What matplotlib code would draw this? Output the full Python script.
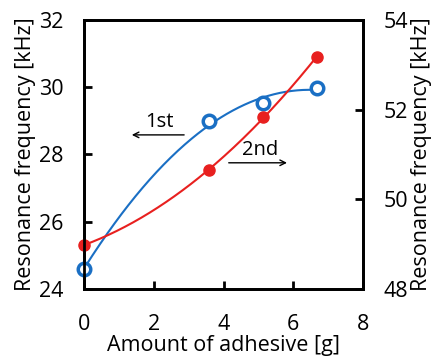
import matplotlib
matplotlib.use('Agg')
import matplotlib.pyplot as plt
import numpy as np

plt.rcParams['font.family'] = ['Open Sans', 'DejaVu Sans']

# data
adhesive = [0.0, 3.58, 5.14, 6.68]
freq_1st = [24.59, 28.98, 29.53, 29.98]     # left axis
adhesive_2 = [0.0, 3.58, 5.14, 6.68]
freq_2nd = [48.98, 50.65, 51.83, 53.18]     # right axis

blue = '#1a6fc4'
red = '#e8201f'

fig = plt.figure(figsize=(4.4, 3.62), dpi=100)
ax = fig.add_axes([0.191, 0.202, 0.634, 0.743])
ax2 = ax.twinx()

# quadratic trend lines like the original
xs = np.linspace(adhesive[0], adhesive[-1], 200)
ax.plot(xs, np.poly1d(np.polyfit(adhesive, freq_1st, 2))(xs), color=blue, lw=1.5, zorder=2)
ax.plot(adhesive, freq_1st, 'o', ms=9, mfc='white', mec=blue, mew=2.5, zorder=3, clip_on=False)

xs2 = np.linspace(adhesive_2[0], adhesive_2[-1], 200)
ax2.plot(xs2, np.poly1d(np.polyfit(adhesive_2, freq_2nd, 2))(xs2), color=red, lw=1.5)
ax2.plot(adhesive_2, freq_2nd, 'o', ms=8, color=red, clip_on=False)

ax.set_xlim(0, 8)
ax.set_ylim(24, 32)
ax2.set_ylim(48, 54)
ax.set_xticks([0, 2, 4, 6, 8])
ax.set_yticks([24, 26, 28, 30, 32])
ax2.set_yticks([48, 50, 52, 54])

for a in (ax, ax2):
    a.tick_params(direction='in', length=6, width=2, labelsize=15.5, pad=15)
    for s in a.spines.values():
        s.set_linewidth(2)
ax.tick_params(axis='x', pad=18)

ax.set_xlabel('Amount of adhesive [g]', fontsize=15.5, labelpad=0)
ax.set_ylabel('Resonance frequency [kHz]', fontsize=15.5, labelpad=2)
ax2.set_ylabel('Resonance frequency [kHz]', fontsize=15.5, labelpad=2)

# arrow annotations
ax.annotate('', xy=(1.29, 28.58), xytext=(2.95, 28.58),
            arrowprops=dict(arrowstyle='->', color='black', lw=1))
ax.text(2.15, 28.95, '1st', fontsize=14.5, ha='center', va='center')
ax.annotate('', xy=(5.9, 27.75), xytext=(4.07, 27.75),
            arrowprops=dict(arrowstyle='->', color='black', lw=1))
ax.text(5.04, 28.14, '2nd', fontsize=14.5, ha='center', va='center')

fig.savefig('out.png', dpi=100)
